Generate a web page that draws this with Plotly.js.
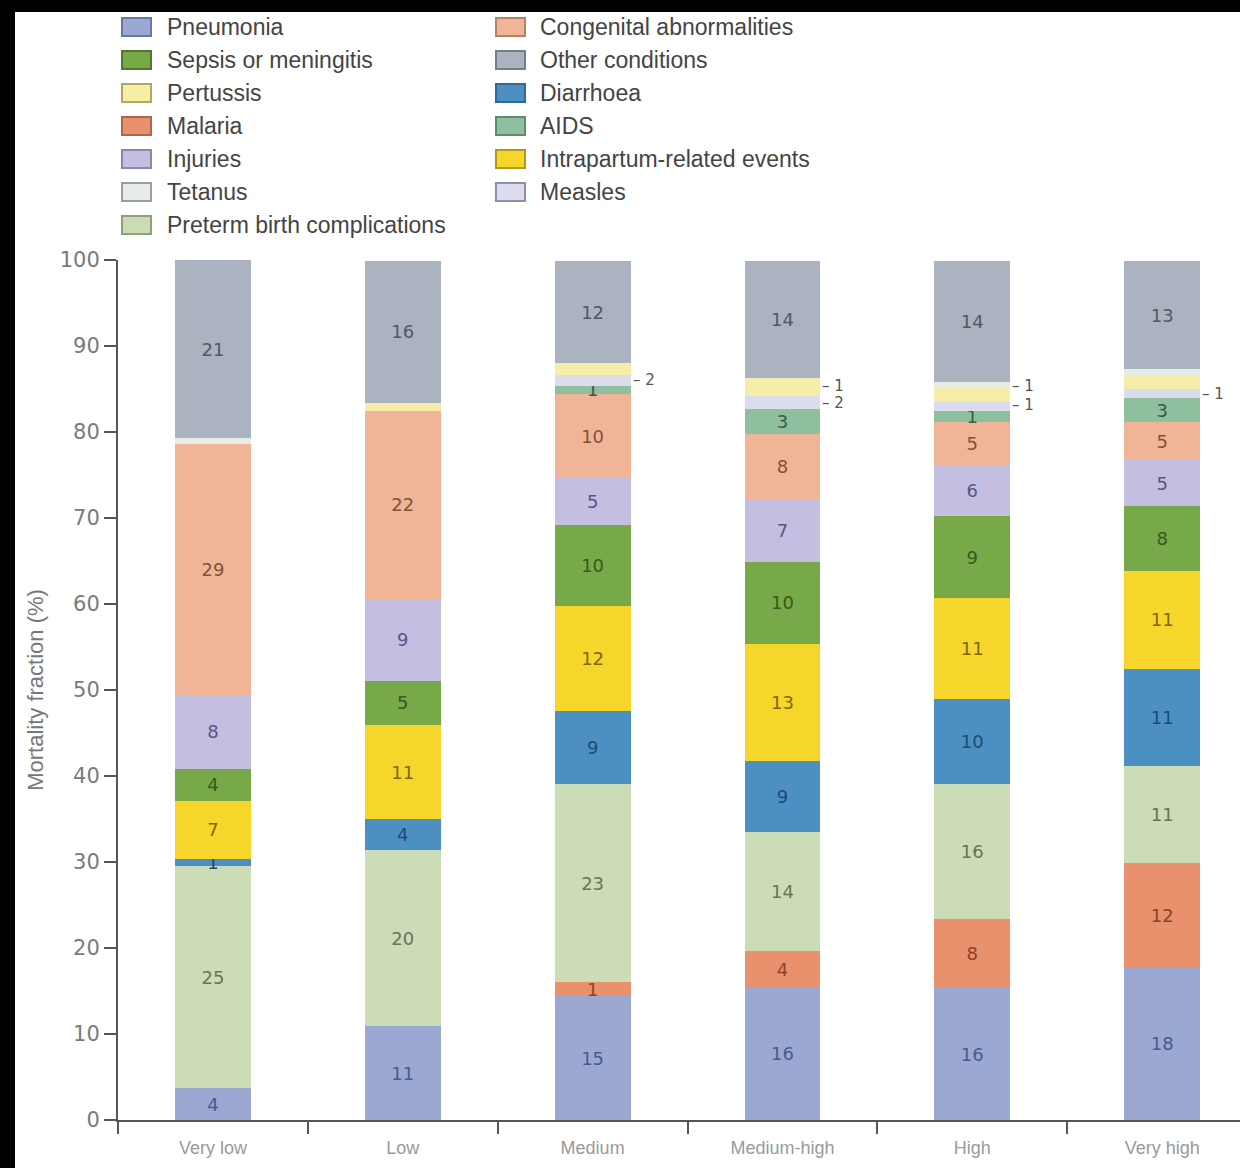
<!DOCTYPE html>
<html><head><meta charset="utf-8">
<script src="https://cdn.plot.ly/plotly-3.0.1.min.js"></script>
<style>
html,body{margin:0;padding:0;background:#000;width:1240px;height:1168px;overflow:hidden}
#chart{position:absolute;left:15px;top:12px;width:1225px;height:1156px;background:#fff}
</style>
</head><body><div id="chart"></div>
<script>
// ---- data ----
const categories = ['Very low','Low','Medium','Medium-high','High','Very high'];

const pneumonia   = [3.7, 10.9, 14.4, 15.4, 15.3, 17.7];
const malaria     = [0, 0, 1.6, 4.3, 8.1, 12.2];
const preterm     = [25.8, 20.5, 23.1, 13.8, 15.7, 11.3];
const diarrhoea   = [0.85, 3.6, 8.5, 8.3, 9.9, 11.3];
const intrapartum = [6.8, 10.9, 12.2, 13.6, 11.7, 11.3];
const sepsis      = [3.7, 5.2, 9.4, 9.5, 9.5, 7.6];
const injuries    = [8.6, 9.5, 5.4, 7.3, 5.9, 5.3];
const congenital  = [29.2, 21.9, 9.8, 7.6, 5.1, 4.5];
const aids        = [0, 0, 1.0, 2.9, 1.2, 2.7];
const measles     = [0, 0, 1.2, 1.5, 1.1, 1.1];
const pertussis   = [0, 0.9, 1.4, 2.1, 1.6, 1.6];
const tetanus     = [0.6, 0, 0, 0, 0.7, 0.7];
const other       = [20.7, 16.5, 11.9, 13.6, 14.1, 12.6];

// printed labels inside segments
const pneumoniaLbl   = ['4','11','15','16','16','18'];
const malariaLbl     = ['','','1','4','8','12'];
const pretermLbl     = ['25','20','23','14','16','11'];
const diarrhoeaLbl   = ['1','4','9','9','10','11'];
const intrapartumLbl = ['7','11','12','13','11','11'];
const sepsisLbl      = ['4','5','10','10','9','8'];
const injuriesLbl    = ['8','9','5','7','6','5'];
const congenitalLbl  = ['29','22','10','8','5','5'];
const aidsLbl        = ['','','1','3','1','3'];
const otherLbl       = ['21','16','12','14','14','13'];
const emptyLbl       = ['','','','','',''];

// labels printed beside thin segments
const sideLabels = [
  {cat:'Medium',      series:'Measles',   text:'2', dy:0},
  {cat:'Medium-high', series:'Pertussis', text:'1', dy:1},
  {cat:'Medium-high', series:'Measles',   text:'2', dy:-1},
  {cat:'High',        series:'Pertussis', text:'1', dy:9},
  {cat:'High',        series:'Measles',   text:'1', dy:2},
  {cat:'Very high',   series:'Measles',   text:'1', dy:0}
];

const legendCol1 = ['Pneumonia','Sepsis or meningitis','Pertussis','Malaria','Injuries','Tetanus','Preterm birth complications'];
const legendCol2 = ['Congenital abnormalities','Other conditions','Diarrhoea','AIDS','Intrapartum-related events','Measles'];

// ---- series (stack order bottom -> top) ----
const series = [
  {name:'Pneumonia', y:pneumonia, t:pneumoniaLbl, color:'#9ba8d2', tc:'#4a5a8c', border:'#6a76a6'},
  {name:'Malaria', y:malaria, t:malariaLbl, color:'#e9906c', tc:'#8a4428', border:'#b0664a'},
  {name:'Preterm birth complications', y:preterm, t:pretermLbl, color:'#ccdcb6', tc:'#66765a', border:'#8f9f7a'},
  {name:'Diarrhoea', y:diarrhoea, t:diarrhoeaLbl, color:'#4b8fc3', tc:'#1f4c72', border:'#2f6a96'},
  {name:'Intrapartum-related events', y:intrapartum, t:intrapartumLbl, color:'#f6d62a', tc:'#7a6810', border:'#b09a18'},
  {name:'Sepsis or meningitis', y:sepsis, t:sepsisLbl, color:'#77a948', tc:'#355a1c', border:'#4f7a2c'},
  {name:'Injuries', y:injuries, t:injuriesLbl, color:'#c4bfe1', tc:'#565688', border:'#8a86ae'},
  {name:'Congenital abnormalities', y:congenital, t:congenitalLbl, color:'#f0b596', tc:'#80523a', border:'#b48266'},
  {name:'AIDS', y:aids, t:aidsLbl, color:'#8ebf9f', tc:'#3a5a45', border:'#5e8a6e'},
  {name:'Measles', y:measles, t:emptyLbl, color:'#dcdcef', tc:'#555', border:'#8e8ea6'},
  {name:'Pertussis', y:pertussis, t:emptyLbl, color:'#f6eea8', tc:'#555', border:'#b0a860'},
  {name:'Tetanus', y:tetanus, t:emptyLbl, color:'#e8ece8', tc:'#555', border:'#9a9e9a'},
  {name:'Other conditions', y:other, t:otherLbl, color:'#aab3bf', tc:'#4f5966', border:'#737c88'}
];

const traces = series.map(s => ({
  type:'bar', name:s.name, x:categories, y:s.y, text:s.t,
  textposition:'inside', insidetextanchor:'middle', textangle:0, constraintext:'none',
  textfont:{family:'DejaVu Sans, sans-serif', size:18, color:s.tc},
  marker:{color:s.color, line:{width:0}},
  width:0.4, showlegend:false, hoverinfo:'x+y+name', cliponaxis:false
}));

// ---- geometry helpers (layout only) ----
const DIV_L = 15, DIV_T = 12;
const PLOT_L = 118, PLOT_R = 1240, PLOT_T = 260, PLOT_B = 1120;
const px = x => (x - PLOT_L) / (PLOT_R - PLOT_L);
const py = y => (PLOT_B - y) / (PLOT_B - PLOT_T);

const shapes = [], annotations = [];
// legend
const rowY0 = 27, rowStep = 33;
[[legendCol1,122,165],[legendCol2,496,538]].forEach(([names,bx,tx]) => {
  names.forEach((nm,i) => {
    const s = series.find(q => q.name === nm);
    const cy = rowY0 + i*rowStep;
    shapes.push({type:'rect', xref:'paper', yref:'paper',
      x0:px(bx), x1:px(bx+29), y0:py(cy+9), y1:py(cy-9),
      fillcolor:s.color, line:{color:s.border, width:2}});
    annotations.push({xref:'paper', yref:'paper', x:px(tx), y:py(cy), xanchor:'left', yanchor:'middle',
      text:nm, showarrow:false, font:{family:'Liberation Sans, Arial, sans-serif', size:23, color:'#444'}});
  });
});
// side labels for thin segments
sideLabels.forEach(l => {
  const ci = categories.indexOf(l.cat);
  let base = 0, val = 0;
  for (const s of series) {
    if (s.name === l.series) { val = s.y[ci]; break; }
    base += s.y[ci];
  }
  annotations.push({x:l.cat, y:base + val/2, xref:'x', yref:'y', xanchor:'left', yanchor:'middle',
    xshift:38, yshift:l.dy, text:'– ' + l.text, showarrow:false,
    font:{family:'DejaVu Sans, sans-serif', size:15, color:'#555'}});
});

const layout = {
  width:1225, height:1156,
  paper_bgcolor:'#fff', plot_bgcolor:'#fff',
  margin:{l:PLOT_L-DIV_L, r:0, t:PLOT_T-DIV_T, b:1156-(PLOT_B-DIV_T)},
  barmode:'stack', showlegend:false,
  xaxis:{type:'category', range:[-0.5, 5.41], tickson:'boundaries', ticks:'outside', ticklen:12,
    tickwidth:2, tickcolor:'#555', showline:true, linecolor:'#555', linewidth:2,
    showgrid:false, zeroline:false, ticklabelstandoff:10,
    tickfont:{family:'Liberation Sans, Arial, sans-serif', size:18, color:'#9a9a9a'}},
  yaxis:{range:[0,100], dtick:10, ticks:'outside', ticklen:12, tickwidth:2, tickcolor:'#555',
    showline:true, linecolor:'#555', linewidth:2, showgrid:false, zeroline:false,
    tickfont:{family:'DejaVu Sans, sans-serif', size:21, color:'#7a7a7a'},
    title:{text:'Mortality fraction (%)', standoff:10,
      font:{family:'Liberation Sans, Arial, sans-serif', size:22, color:'#777'}}},
  uniformtext:{mode:'show', minsize:18},
  shapes:shapes, annotations:annotations
};

Plotly.newPlot('chart', traces, layout, {displayModeBar:false, staticPlot:true});
</script>
</body></html>
